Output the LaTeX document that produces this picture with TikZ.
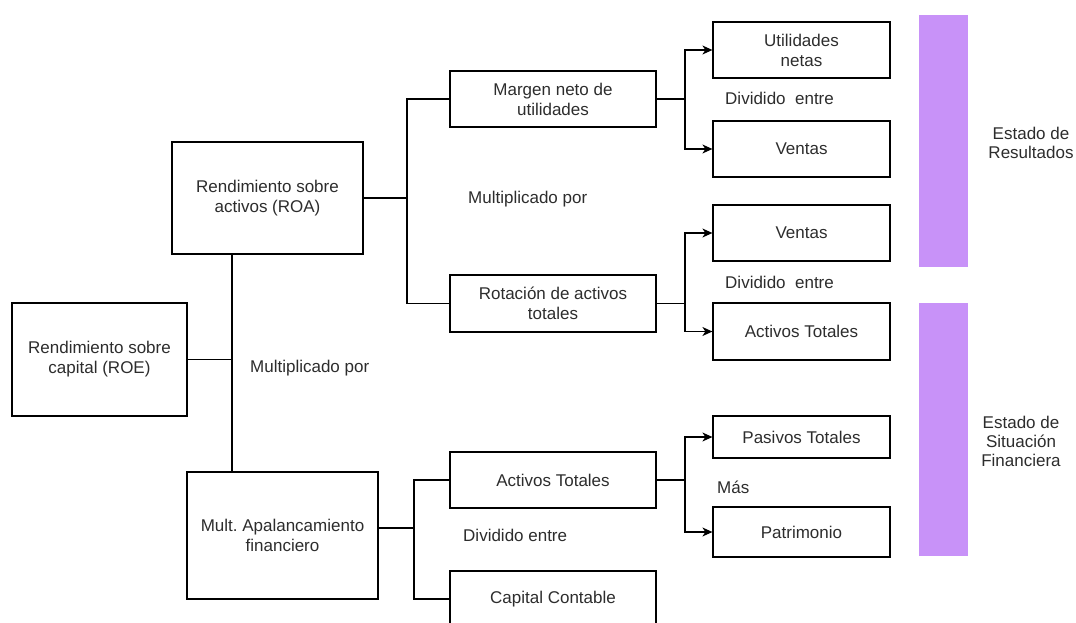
\documentclass[tikz,border=0pt]{standalone}
\usepackage{fontspec}
\setmainfont{Liberation Sans}
\usetikzlibrary{arrows.meta}
\definecolor{barpurple}{RGB}{200,146,248}
\definecolor{txt}{RGB}{45,45,45}
\frenchspacing
\begin{document}
\begin{tikzpicture}[x=1pt,y=-1pt,
  font=\fontsize{17}{20}\selectfont,
  box/.style={draw, line width=1.2pt, align=center, inner sep=0pt, text=txt},
  conn/.style={line width=1.2pt},
  arr/.style={conn, -{Stealth[length=10pt,width=9pt,inset=3pt]}},
  lbl/.style={anchor=base west, inner sep=0pt, text=txt},
  side/.style={align=center, inner sep=0pt, text=txt, font=\fontsize{17}{19}\selectfont},
  bar/.style={fill=barpurple, draw=none}]
\clip (0,0) rectangle (1076,623);
\fill[white] (0,0) rectangle (1076,623);

% left column
\node[box, minimum width=175pt, minimum height=113pt] (roe) at (99.5,359.5) {Rendimiento sobre\\capital (ROE)};
\node[box, minimum width=191pt, minimum height=112pt] (roa) at (267.5,198) {Rendimiento sobre\\activos (ROA)};
\node[box, minimum width=191pt, minimum height=127pt] (mult) at (282.5,535.5) {Mult.\ Apalancamiento\\financiero};

% middle column
\node[box, minimum width=206pt, minimum height=56pt] (margen) at (553,99) {Margen neto de\\utilidades};
\node[box, minimum width=206pt, minimum height=57pt] (rot) at (553,303.5) {Rotación de activos\\totales};
\node[box, minimum width=206pt, minimum height=56pt] (at1) at (553,480) {Activos Totales};
\node[box, minimum width=206pt, minimum height=56pt] (cap) at (553,599) {Capital Contable};

% right column
\node[box, minimum width=177pt, minimum height=56pt] (un) at (801.5,50) {Utilidades\\netas};
\node[box, minimum width=177pt, minimum height=56pt] (v1) at (801.5,149) {Ventas};
\node[box, minimum width=177pt, minimum height=56pt] (v2) at (801.5,233) {Ventas};
\node[box, minimum width=177pt, minimum height=57pt] (at2) at (801.5,331.5) {Activos Totales};
\node[box, minimum width=177pt, minimum height=42pt] (pas) at (801.5,437) {Pasivos Totales};
\node[box, minimum width=177pt, minimum height=50pt] (pat) at (801.5,532) {Patrimonio};

% junctions
\coordinate (j1) at (232,359.5);
\coordinate (j2) at (407,198);
\coordinate (j3) at (414,528);
\coordinate (j4) at (685,99);
\coordinate (j5) at (685,303.5);
\coordinate (j6) at (685,480);

% connectors
\draw[conn] (roe.east) -- (j1);
\draw[conn] (roa.south -| j1) -- (mult.north -| j1);
\draw[conn] (roa.east) -- (j2);
\draw[conn] (margen.west) -| (j2) |- (rot.west);
\draw[conn] (mult.east |- j3) -- (j3);
\draw[conn] (at1.west) -| (j3) |- (cap.west);
\draw[conn] (margen.east) -- (j4);
\draw[arr] (j4) |- (un.west);
\draw[arr] (j4) |- (v1.west);
\draw[conn] (rot.east) -- (j5);
\draw[arr] (j5) |- (v2.west);
\draw[arr] (j5) |- (at2.west);
\draw[conn] (at1.east) -- (j6);
\draw[arr] (j6) |- (pas.west);
\draw[arr] (j6) |- (pat.west);

% labels
\node[lbl] (l1) at (725,105) {Dividido\ \ entre};
\node[lbl] (l2) at (725,288) {Dividido\ \ entre};
\node[lbl] (l3) at (468,203) {Multiplicado por};
\node[lbl] (l4) at (250,372) {Multiplicado por};
\node[lbl] (l5) at (463,541) {Dividido entre};
\node[lbl] (l6) at (717,493) {Más};

% side bars
\path[bar] (919,15) rectangle (968,267);
\path[bar] (919,303) rectangle (968,556);
\node[side] (s1) at (1031,143) {Estado de\\Resultados};
\node[side] (s2) at (1021,441) {Estado de\\Situación\\Financiera};
\end{tikzpicture}
\end{document}
